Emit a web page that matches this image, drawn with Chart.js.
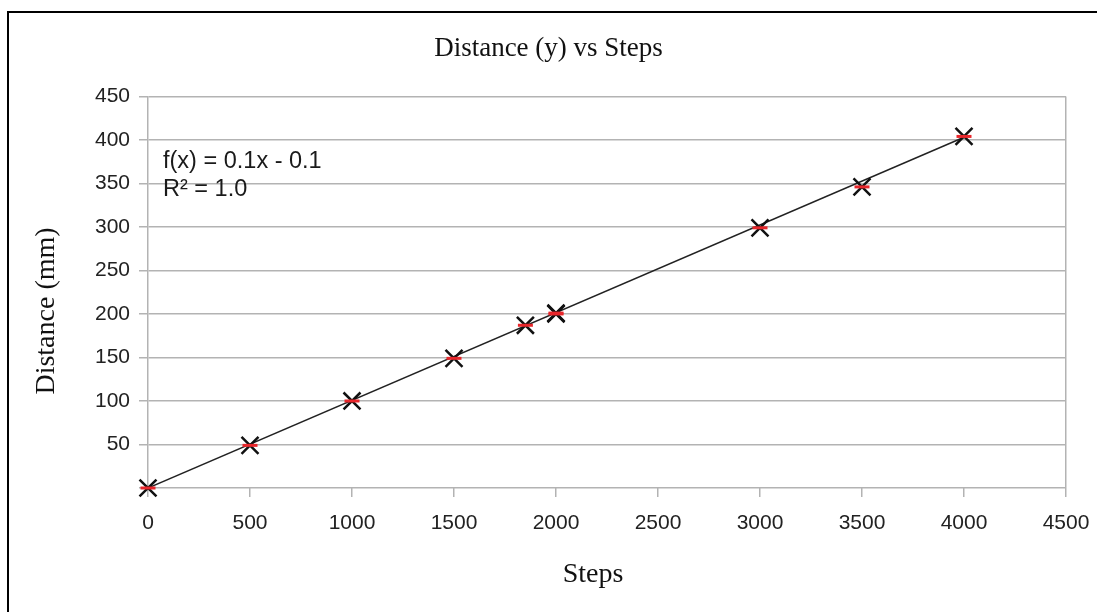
<!DOCTYPE html>
<html>
<head>
<meta charset="utf-8">
<script src="https://cdn.jsdelivr.net/npm/chart.js@4.4.1/dist/chart.umd.min.js"></script>
<style>
  html, body { margin: 0; padding: 0; background: #fff; }
  #wrap { width: 1097px; height: 612px; }
</style>
</head>
<body>
<div id="wrap"><canvas id="chart"></canvas></div>
<script>
// values
const steps = [0, 500, 1000, 1500, 1850, 2000, 2000, 3000, 3500, 4000];
const distance = [0, 49, 100, 149, 187, 200, 201, 299, 346, 404];
const trendSteps = [0, 4000];
const trendDistance = [0, 403];
const xTicks = [0, 500, 1000, 1500, 2000, 2500, 3000, 3500, 4000, 4500];
const yTicks = [0, 50, 100, 150, 200, 250, 300, 350, 400, 450];
const equationLines = ['f(x) = 0.1x - 0.1', 'R\u00b2 = 1.0'];
const xTitle = 'Steps';
const yTitle = 'Distance (mm)';

const gridGrey = '#b3b3b3';
const sans = '"Liberation Sans", Arial, sans-serif';
const serif = '"Liberation Serif", "Times New Roman", serif';

const points = steps.map((s, i) => ({ x: s, y: distance[i] }));
const trend = trendSteps.map((s, i) => ({ x: s, y: trendDistance[i] }));

// frame, axis titles and regression text
const frame = {
	id: 'frame',
	beforeDraw(chart) {
		const c = chart.ctx;
		c.save();
		c.strokeStyle = '#000';
		c.lineWidth = 2;
		c.strokeRect(8, 12, 1200, 1200);
		c.restore();
	},
	afterDraw(chart) {
		const c = chart.ctx;
		const area = chart.chartArea;
		c.save();
		c.fillStyle = '#111';
		c.font = '28px ' + serif;
		c.textAlign = 'center';
		c.textBaseline = 'middle';
		c.fillText(xTitle, 593, 575);
		c.translate(47, 311);
		c.rotate(-Math.PI / 2);
		c.fillText(yTitle, 0, 0);
		c.restore();

		c.save();
		c.fillStyle = '#1a1a1a';
		c.font = '23.5px ' + sans;
		c.textBaseline = 'middle';
		equationLines.forEach((t, i) => {
			c.fillText(t, area.left + 15, area.top + 65 + i * 28);
		});
		c.restore();
	}
};

new Chart(document.getElementById('chart'), {
	type: 'scatter',
	data: {
		datasets: [
			{
				label: 'marks',
				data: points,
				pointStyle: 'crossRot',
				pointRadius: 12,
				pointBorderWidth: 2.5,
				pointBorderColor: '#111',
				showLine: false,
				clip: false,
				order: 1
			},
			{
				label: 'marks red',
				data: points,
				pointStyle: 'line',
				pointRadius: 7.5,
				pointBorderWidth: 3,
				pointBorderColor: '#e8262b',
				showLine: false,
				clip: false,
				order: 0
			},
			{
				label: 'trend',
				data: trend,
				showLine: true,
				borderColor: '#222',
				borderWidth: 1.5,
				pointRadius: 0,
				order: 2
			}
		]
	},
	options: {
		responsive: true,
		maintainAspectRatio: false,
		animation: false,
		events: [],
		layout: { padding: { top: 0, right: 0, bottom: 6, left: 0 } },
		plugins: {
			legend: { display: false },
			tooltip: { enabled: false },
			title: {
				display: true,
				text: 'Distance (y) vs Steps',
				color: '#111',
				font: { family: serif, size: 27, weight: 'normal' },
				padding: { top: 33, bottom: 31 }
			}
		},
		scales: {
			x: {
				type: 'linear',
				min: 0,
				max: 4500,
				afterBuildTicks: s => { s.ticks = xTicks.map(v => ({ value: v })); },
				afterFit: s => { s.height = 118; s.paddingRight = 31; },
				ticks: { color: '#222', font: { family: sans, size: 21 }, padding: 14, callback: v => String(v) },
				grid: {
					color: c => (c.tick && c.tick.value === 4500) ? gridGrey : 'transparent',
					tickColor: gridGrey,
					tickLength: 9,
					lineWidth: 1.5
				},
				border: { display: false }
			},
			y: {
				min: 0,
				max: 450,
				afterBuildTicks: s => { s.ticks = yTicks.map(v => ({ value: v })); },
				afterFit: s => { s.width = 148; },
				ticks: {
					color: '#222',
					font: { family: sans, size: 21 },
					padding: 9,
					callback: v => v === 0 ? '' : String(v)
				},
				grid: { color: gridGrey, tickColor: gridGrey, tickLength: 9, lineWidth: 1.5 },
				border: { color: gridGrey, width: 1.5 }
			}
		}
	},
	plugins: [frame]
});
</script>
</body>
</html>
